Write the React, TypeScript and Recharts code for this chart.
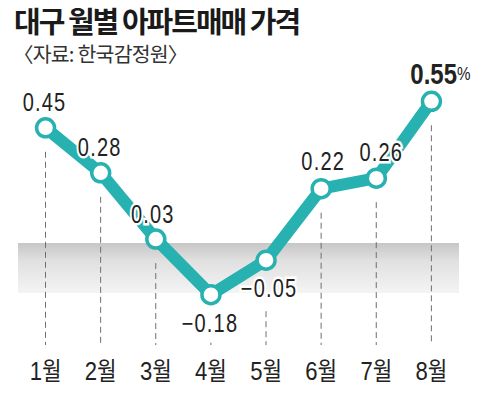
import React from "react";
import {
  ComposedChart,
  Line,
  Bar,
  XAxis,
  YAxis,
  ReferenceArea,
  LabelList,
} from "recharts";

const months = ["1월", "2월", "3월", "4월", "5월", "6월", "7월", "8월"];
const changes = [0.45, 0.28, 0.03, -0.18, -0.05, 0.22, 0.26, 0.55];

const Y_MIN = -0.37;
const Y_MAX = 0.857;

const data = months.map((month, i) => ({ month, value: changes[i] }));

const TEAL = "#27b2b1";
const SANS = '"Liberation Sans", Arial, "Noto Sans CJK KR", sans-serif';
const KOREAN = '"Noto Sans CJK KR", sans-serif';

// label offset from each point (dx, dy)
const labelOffsets = [
  [-1, -25],
  [-1, -25],
  [-3, -24],
  [-1, 29],
  [3, 28],
  [2, -27],
  [5, -25],
  [9, -28],
];

const fmt = (v: number) => (v < 0 ? "−" + Math.abs(v).toFixed(2) : v.toFixed(2));

function StemShape(props: any) {
  const { x, y, width, height, index } = props;
  const cx = x + width / 2;
  const top = Math.min(y, y + height);
  const bottom = Math.max(y, y + height);
  const gap = index === 3 ? 48 : index === 4 ? 51 : 24;
  return (
    <line
      x1={cx}
      x2={cx}
      y1={top + gap}
      y2={bottom}
      stroke="#6f6f6f"
      strokeWidth={1}
      strokeDasharray="6 4"
    />
  );
}

function PointDot(props: any) {
  const { cx, cy } = props;
  return <circle cx={cx} cy={cy} r={9} fill="#fff" stroke={TEAL} strokeWidth={3.5} />;
}

function ValueLabel(props: any) {
  const { x, y, value, index } = props;
  const [dx, dy] = labelOffsets[index];
  const common = {
    x: 0,
    y: 0,
    textAnchor: "middle" as const,
    dominantBaseline: "central" as const,
    fill: "#222",
    stroke: "#fff",
    strokeWidth: 5,
    paintOrder: "stroke",
    fontFamily: SANS,
  };
  if (index === changes.length - 1) {
    return (
      <g transform={`translate(${x + dx},${y + dy}) scale(0.8,1)`}>
        <text {...common}>
          <tspan fontSize={30} fontWeight="bold">
            {fmt(value)}
          </tspan>
          <tspan fontSize={19}>%</tspan>
        </text>
      </g>
    );
  }
  return (
    <g transform={`translate(${x + dx},${y + dy}) scale(0.8,1)`}>
      <text {...common} fontSize={25} letterSpacing={1.5}>
        {fmt(value)}
      </text>
    </g>
  );
}

function MonthTick(props: any) {
  const { x, y, payload } = props;
  const label: string = payload.value;
  return (
    <g transform={`translate(${x},${y + 27}) scale(0.85,1)`}>
      <text x={0} y={0} textAnchor="middle" fill="#222" fontSize={26}>
        <tspan fontFamily={SANS}>{label.slice(0, -1)}</tspan>
        <tspan fontFamily={KOREAN} fontSize={25}>
          {label.slice(-1)}
        </tspan>
      </text>
    </g>
  );
}

export default function App() {
  return (
    <div
      style={{
        position: "absolute",
        left: 0,
        top: 0,
        width: 480,
        height: 394,
        background: "#fff",
        overflow: "hidden",
      }}
    >
      <div
        style={{
          position: "absolute",
          left: 14,
          top: 6,
          fontFamily: KOREAN,
          fontWeight: 700,
          fontSize: 29,
          letterSpacing: -2,
          lineHeight: 1,
          color: "#1a1a1a",
          whiteSpace: "nowrap",
        }}
      >
        대구 월별 아파트매매 가격
      </div>
      <div
        style={{
          position: "absolute",
          left: 13,
          top: 43,
          fontFamily: KOREAN,
          fontSize: 20.5,
          letterSpacing: -0.8,
          lineHeight: 1,
          color: "#333",
          whiteSpace: "nowrap",
        }}
      >
        〈자료: 한국감정원〉
      </div>
      <div style={{ position: "absolute", left: 0, top: 0 }}>
        <ComposedChart
          width={480}
          height={394}
          data={data}
          margin={{ top: 20, right: 21, left: 18, bottom: 9 }}
        >
          <defs>
            <linearGradient id="bandGradient" x1="0" y1="0" x2="0" y2="1">
              <stop offset="0%" stopColor="#c6c6c6" />
              <stop offset="35%" stopColor="#e0e0e0" />
              <stop offset="100%" stopColor="#f4f4f4" />
            </linearGradient>
          </defs>
          <XAxis
            dataKey="month"
            axisLine={false}
            tickLine={false}
            height={40}
            interval={0}
            tick={<MonthTick />}
          />
          <YAxis hide domain={[Y_MIN, Y_MAX]} allowDataOverflow />
          <ReferenceArea
            y1={0.015}
            y2={-0.174}
            fill="url(#bandGradient)"
            fillOpacity={1}
            stroke="none"
            ifOverflow="extendDomain"
          />
          <Bar
            dataKey={(d: any) => [Y_MIN, d.value]}
            shape={<StemShape />}
            isAnimationActive={false}
          />
          <Line
            type="linear"
            dataKey="value"
            stroke={TEAL}
            strokeWidth={12}
            strokeLinejoin="round"
            dot={<PointDot />}
            activeDot={false}
            isAnimationActive={false}
          >
            <LabelList dataKey="value" content={<ValueLabel />} />
          </Line>
        </ComposedChart>
      </div>
    </div>
  );
}
